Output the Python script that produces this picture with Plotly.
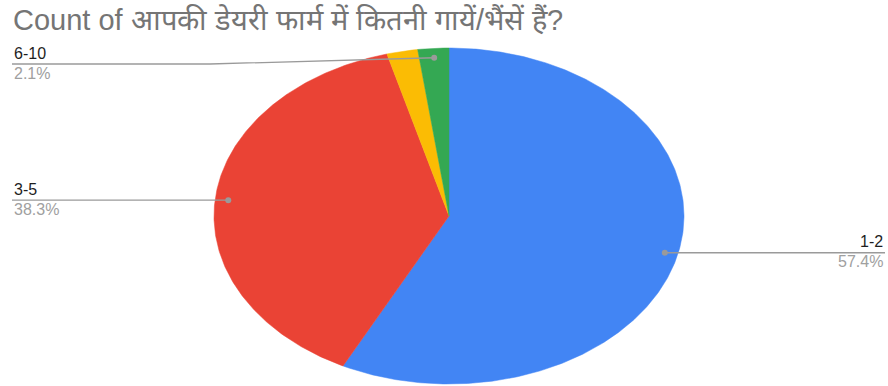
import numpy as np
import plotly.graph_objects as go

# Survey answers: number of cows/buffaloes on the dairy farm
categories = ["1-2", "3-5", "10+", "6-10"]
counts = [27, 18, 1, 1]
colors = ["#4285F4", "#EA4335", "#FBBC04", "#34A853"]
labelled = ["1-2", "3-5", "6-10"]
title_text = "Count of आपकी डेयरी फार्म में कितनी गायें/भैंसें हैं?"

W, H = 888, 386
CX, CY = 449, 216      # pie centre (pixels)
RX, RY = 235, 168      # horizontal / vertical radius (pixels)
ANCHOR_R = 0.944       # where leader lines touch the slice


def to_x(px):
    return (px - CX) / RX


def to_y(py):
    return (CY - py) / RY


def to_px(x, y):
    return CX + x * RX, CY - y * RY


total = sum(counts)
fracs = [c / total for c in counts]
cum = np.concatenate([[0.0], np.cumsum(fracs)])

fig = go.Figure()

# wedges, clockwise from 12 o'clock, on a unit circle stretched by the axes
for i, (cat, col) in enumerate(zip(categories, colors)):
    a0, a1 = cum[i] * 2 * np.pi, cum[i + 1] * 2 * np.pi
    n = max(int((a1 - a0) / (2 * np.pi) * 600), 6)
    t = np.linspace(a0, a1, n)
    xs = np.concatenate([[0.0], np.sin(t), [0.0]])
    ys = np.concatenate([[0.0], np.cos(t), [0.0]])
    fig.add_trace(go.Scatter(
        x=xs, y=ys, mode="lines", fill="toself", fillcolor=col,
        line=dict(color=col, width=0.5),
        hoverinfo="text", text=f"{cat}: {counts[i]} ({fracs[i]*100:.1f}%)",
        showlegend=False,
    ))

LINE_COL = "#9a9a9a"
FONT = "Liberation Sans, Arial, sans-serif"
annotations = []
for i, cat in enumerate(categories):
    if cat not in labelled:
        continue
    mid = (cum[i] + cum[i + 1]) / 2 * 2 * np.pi
    ax, ay = ANCHOR_R * np.sin(mid), ANCHOR_R * np.cos(mid)
    apx, apy = to_px(ax, ay)
    if cat == "6-10":
        pts = [(apx, apy), (210, 64), (12, 64)]
        side = "left"
    elif apx < CX:
        pts = [(apx, apy), (12, apy)]
        side = "left"
    else:
        pts = [(apx, apy), (885, apy)]
        side = "right"
    ly = pts[-1][1]
    fig.add_trace(go.Scatter(
        x=[to_x(p[0]) for p in pts], y=[to_y(p[1]) for p in pts],
        mode="lines", line=dict(color=LINE_COL, width=1.3),
        hoverinfo="skip", showlegend=False,
    ))
    fig.add_trace(go.Scatter(
        x=[ax], y=[ay], mode="markers",
        marker=dict(color=LINE_COL, size=6),
        hoverinfo="skip", showlegend=False,
    ))
    lx = pts[-1][0]
    xanchor = "left" if side == "left" else "right"
    annotations.append(dict(
        x=to_x(lx), y=to_y(ly - 11), xref="x", yref="y", text=cat,
        showarrow=False, xanchor=xanchor, yanchor="middle",
        font=dict(family=FONT, size=16, color="#1e1e1e"),
    ))
    annotations.append(dict(
        x=to_x(lx), y=to_y(ly + 9), xref="x", yref="y",
        text=f"{fracs[i]*100:.1f}%",
        showarrow=False, xanchor=xanchor, yanchor="middle",
        font=dict(family=FONT, size=16, color="#a0a0a0"),
    ))

annotations.append(dict(
    x=to_x(11), y=to_y(20), xref="x", yref="y", text=title_text,
    showarrow=False, xanchor="left", yanchor="middle",
    font=dict(family=FONT, size=29, color="#757575"),
))

fig.update_layout(
    width=W, height=H,
    margin=dict(l=0, r=0, t=0, b=0),
    paper_bgcolor="white", plot_bgcolor="white",
    xaxis=dict(range=[to_x(0), to_x(W)], visible=False, fixedrange=True),
    yaxis=dict(range=[to_y(H), to_y(0)], visible=False, fixedrange=True),
    annotations=annotations,
    showlegend=False,
)

fig.write_html("out.html")
